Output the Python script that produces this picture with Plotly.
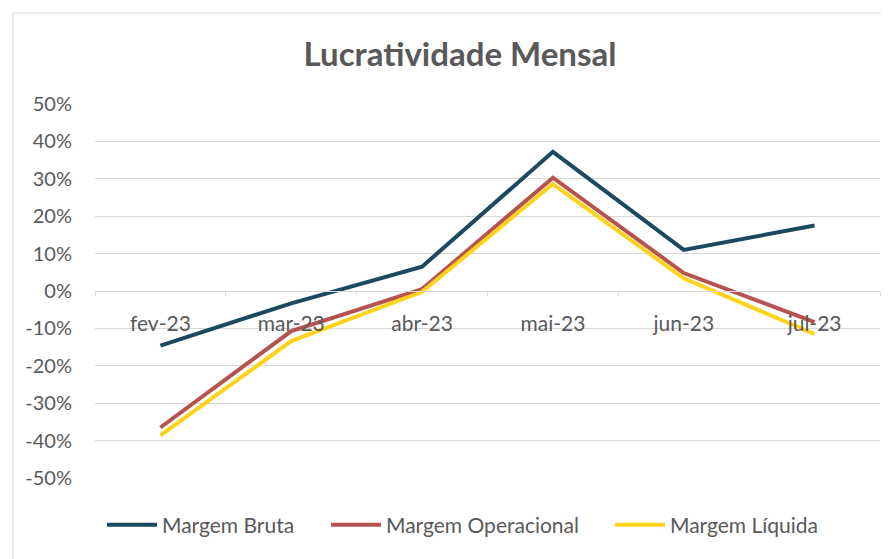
import plotly.graph_objects as go

categorias = ["fev-23", "mar-23", "abr-23", "mai-23", "jun-23", "jul-23"]
margem_bruta = [-0.146, -0.033, 0.065, 0.372, 0.110, 0.175]
margem_operacional = [-0.365, -0.107, 0.005, 0.303, 0.048, -0.083]
margem_liquida = [-0.386, -0.134, -0.002, 0.286, 0.034, -0.115]
y_ticks = [0.5, 0.4, 0.3, 0.2, 0.1, 0.0, -0.1, -0.2, -0.3, -0.4, -0.5]
y_labels = ["50%", "40%", "30%", "20%", "10%", "0%", "-10%", "-20%", "-30%", "-40%", "-50%"]

font_family = "Lato"
gray_text = "#595959"
grid = "#d9d9d9"

# page body has an 8px margin, so figure coords = screen coords - 8
OFF = 8
W, H = 889, 559
ml, mt = 95 - OFF, 104 - OFF
mr = W - (880 - OFF)
mb = H - (478 - OFF)
pw, ph = W - ml - mr, H - mt - mb

def px_x(sx):
    return (sx - OFF - ml) / pw

def px_y(sy):
    return (H - mb - (sy - OFF)) / ph

fig = go.Figure()
series = [
    ("Margem Bruta", margem_bruta, "#1B4A60", "legend", 108),
    ("Margem Operacional", margem_operacional, "#B65350", "legend2", 332),
    ("Margem Líquida", margem_liquida, "#FFD31A", "legend3", 616),
]
legend_common = dict(orientation="h", yanchor="middle", y=px_y(525), xanchor="left",
                     font=dict(size=21, color=gray_text), itemwidth=50,
                     bgcolor="rgba(0,0,0,0)")
legends = {}
for name, vals, color, lg, lx in series:
    fig.add_trace(go.Scatter(x=categorias, y=vals, name=name, mode="lines",
                             line=dict(color=color, width=4), legend=lg))
    legends[lg] = dict(legend_common, x=px_x(lx - 6))

fig.update_layout(
    width=W, height=H,
    margin=dict(l=ml, r=mr, t=mt, b=mb),
    paper_bgcolor="white", plot_bgcolor="white",
    font=dict(family=font_family, color=gray_text, size=20),
    title=dict(text="<b>Lucratividade Mensal</b>", x=(460 - OFF) / W, xanchor="center",
               y=1 - (54 - OFF) / H, yanchor="middle",
               font=dict(size=33, color=gray_text, family=font_family)),
    showlegend=True,
    **legends,
    xaxis=dict(type="category", anchor="free", position=0.5, showgrid=False,
               showline=True, linecolor=grid, linewidth=1,
               ticks="outside", tickson="boundaries", ticklen=4, tickcolor=grid,
               tickfont=dict(size=21, color=gray_text), ticklabelstandoff=14,
               range=[-0.5, 5.5], zeroline=False),
    yaxis=dict(range=[-0.5, 0.5], tickvals=y_ticks, ticktext=y_labels,
               showgrid=True, gridcolor=grid, gridwidth=1, zeroline=False,
               showline=False, ticks="", ticklabelstandoff=22,
               tickfont=dict(size=20, color=gray_text)),
    shapes=[dict(type="rect", xref="paper", yref="paper",
                 x0=px_x(13), x1=1.5, y0=-1, y1=px_y(13),
                 line=dict(color=grid, width=1), fillcolor="rgba(0,0,0,0)",
                 layer="below")],
)

fig.write_html("out.html")
